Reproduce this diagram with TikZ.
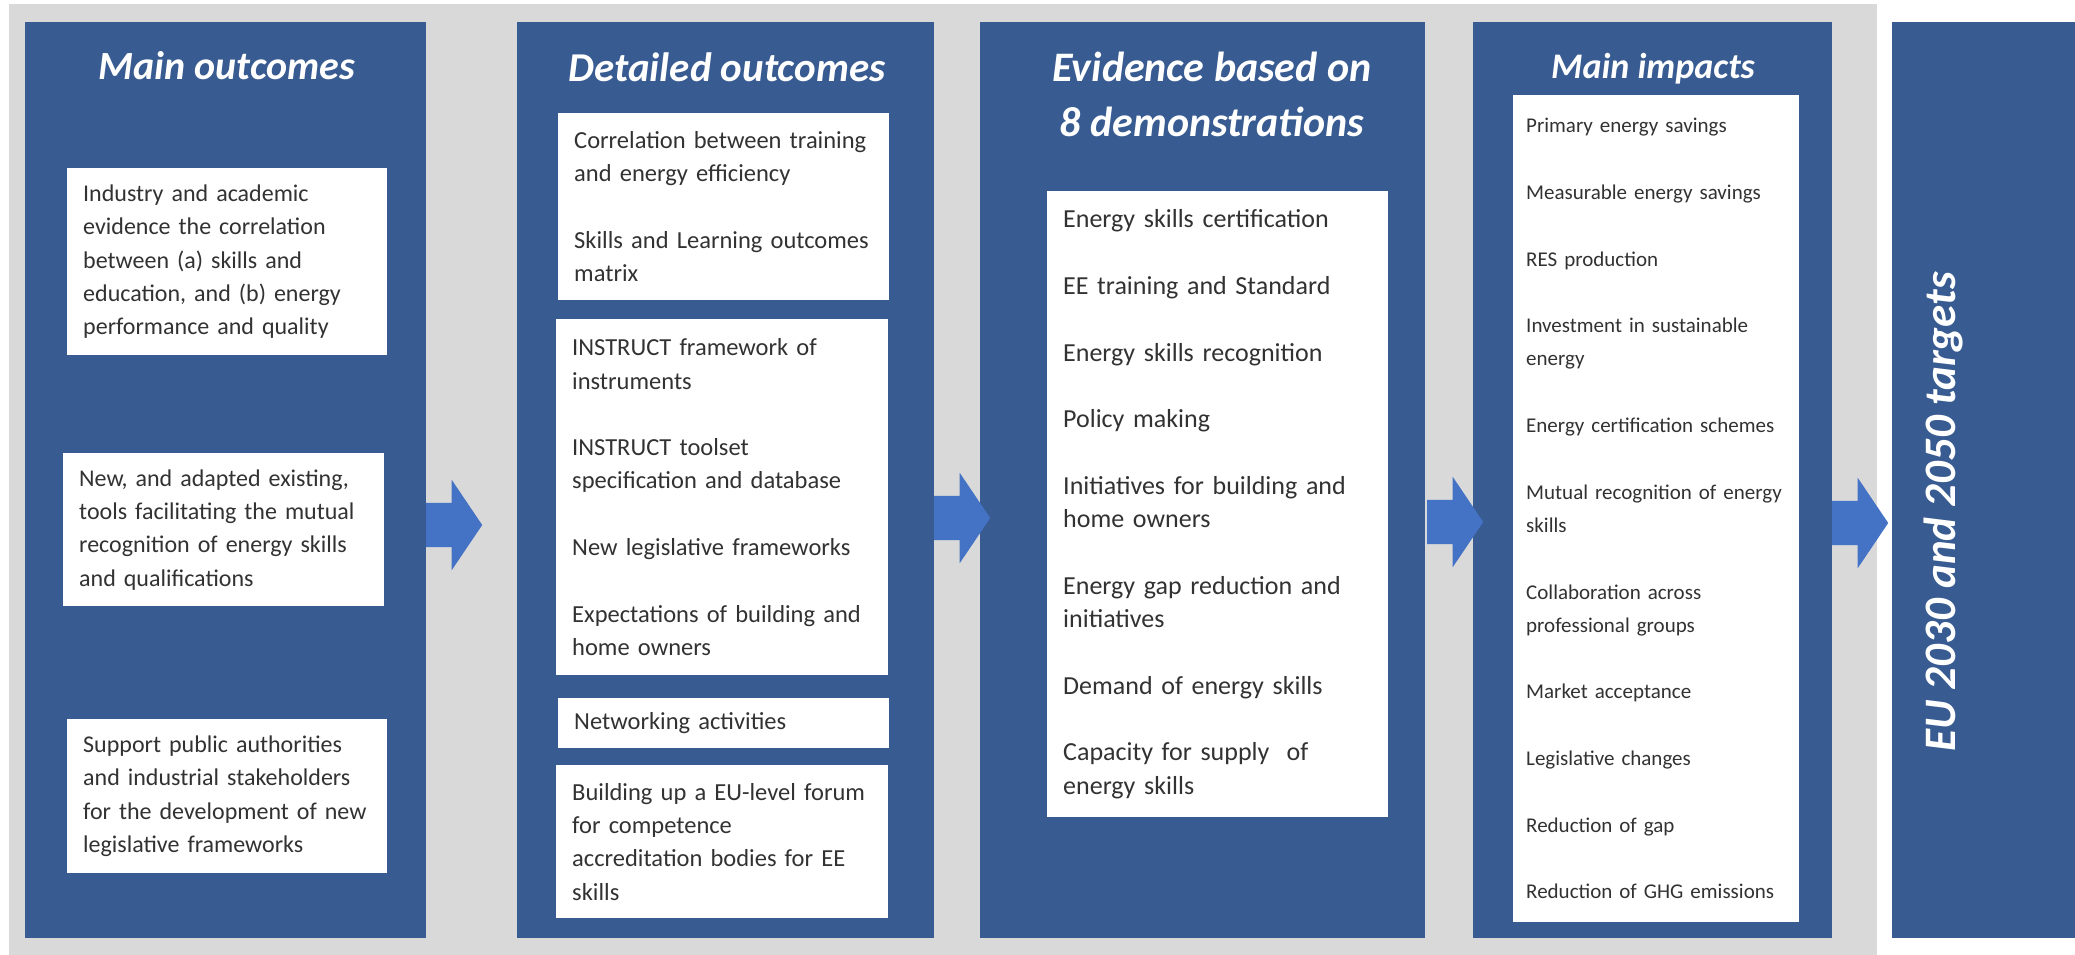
\documentclass[tikz,border=0pt]{standalone}
\usepackage{fontspec}
\setmainfont{Carlito}
\usetikzlibrary{shapes.arrows}
\definecolor{panelblue}{RGB}{56,91,145}
\definecolor{arrowblue}{RGB}{68,114,196}
\definecolor{bggray}{RGB}{217,217,217}
\definecolor{txtgray}{RGB}{50,50,50}
\tikzset{
  panel/.style={fill=panelblue, anchor=north west, inner sep=0pt},
  title/.style={text=white, font=\fontsize{40}{55}\selectfont\bfseries\itshape, align=center},
  box/.style={fill=white, anchor=north west, text=txtgray, align=left, inner xsep=16pt, inner ysep=0pt, font=\fontsize{24}{33.3}\selectfont},
  flow/.style={single arrow, fill=arrowblue, anchor=tail, inner xsep=0pt, inner ysep=22pt, minimum height=56pt, minimum width=90pt, single arrow head extend=23pt, single arrow tip angle=112}
}
\begin{document}
\begin{tikzpicture}[x=1pt,y=-1pt]
    \useasboundingbox (0,0) rectangle (2075,955);
    \fill[white] (0,0) rectangle (2075,955);
    \fill[bggray] (9,4) rectangle (1877,955);
    \node[panel, minimum width=401pt, minimum height=916pt] (p1) at (25,22) {};
    \node[panel, minimum width=417pt, minimum height=916pt] (p2) at (517,22) {};
    \node[panel, minimum width=445pt, minimum height=916pt] (p3) at (980,22) {};
    \node[panel, minimum width=359pt, minimum height=916pt] (p4) at (1473,22) {};
    \node[panel, minimum width=183pt, minimum height=916pt] (p5) at (1892,22) {};
    \node[title, anchor=base] (t1) at (227,80) {Main outcomes};
    \node[title, anchor=base, font=\fontsize{41}{55}\selectfont\bfseries\itshape] (t2) at (727,82) {Detailed outcomes};
    \node[title, anchor=base, font=\fontsize{42}{55}\selectfont\bfseries\itshape] (t3) at (1212,137) {Evidence based on\\8 demonstrations};
    \node[title, anchor=base, font=\fontsize{36}{55}\selectfont\bfseries\itshape] (t4) at (1653,79) {Main impacts};
    \node[title, rotate=90, font=\fontsize{45}{55}\selectfont\bfseries\itshape] (t5) at (1943,512) {EU 2030 and 2050 targets};
    \node[box, text width=288pt, minimum height=187pt] (a1) at (67,168) {Industry and academic\\evidence the correlation\\between (a) skills and\\education, and (b) energy\\performance and quality};
    \node[box, text width=289pt, minimum height=153pt] (a2) at (63,453) {New, and adapted existing,\\tools facilitating the mutual\\recognition of energy skills\\and qualifications};
    \node[box, text width=288pt, minimum height=154pt] (a3) at (67,719) {Support public authorities\\and industrial stakeholders\\for the development of new\\legislative frameworks};
    \node[box, font=\fontsize{24.5}{33.3}\selectfont, text width=299pt, minimum height=187pt] (b1) at (558,113) {Correlation between training\\and energy efficiency\\[33.3pt]Skills and Learning outcomes\\matrix};
    \node[box, font=\fontsize{24.5}{33.3}\selectfont, text width=300pt, minimum height=356pt] (b2) at (556,319) {INSTRUCT framework of\\instruments\\[33.3pt]INSTRUCT toolset\\specification and database\\[33.3pt]New legislative frameworks\\[33.3pt]Expectations of building and\\home owners};
    \node[box, font=\fontsize{24.5}{33.3}\selectfont, text width=299pt, minimum height=50pt] (b3) at (558,698) {Networking activities};
    \node[box, font=\fontsize{24.5}{33.3}\selectfont, text width=300pt, minimum height=153pt] (b4) at (556,765) {Building up a EU-level forum\\for competence\\accreditation bodies for EE\\skills};
    \node[box, font=\fontsize{26}{33.3}\selectfont, text width=309pt, minimum height=626pt] (c1) at (1047,191) {Energy skills certification\\[33.3pt]EE training and Standard\\[33.3pt]Energy skills recognition\\[33.3pt]Policy making\\[33.3pt]Initiatives for building and\\home owners\\[33.3pt]Energy gap reduction and\\initiatives\\[33.3pt]Demand of energy skills\\[33.3pt]Capacity for supply\ \ of\\energy skills};
    \node[box, font=\fontsize{21}{33.3}\selectfont, inner xsep=13pt, text width=260pt, minimum height=827pt] (d1) at (1513,95) {Primary energy savings\\[33.3pt]Measurable energy savings\\[33.3pt]RES production\\[33.3pt]Investment in sustainable\\energy\\[33.3pt]Energy certification schemes\\[33.3pt]Mutual recognition of energy\\skills\\[33.3pt]Collaboration across\\professional groups\\[33.3pt]Market acceptance\\[33.3pt]Legislative changes\\[33.3pt]Reduction of gap\\[33.3pt]Reduction of GHG emissions};
    \node[flow] (f1) at (426,525) {};
    \node[flow] (f2) at (934,518) {};
    \node[flow] (f3) at (1427,522) {};
    \node[flow] (f4) at (1832,523) {};
\end{tikzpicture}
\end{document}
